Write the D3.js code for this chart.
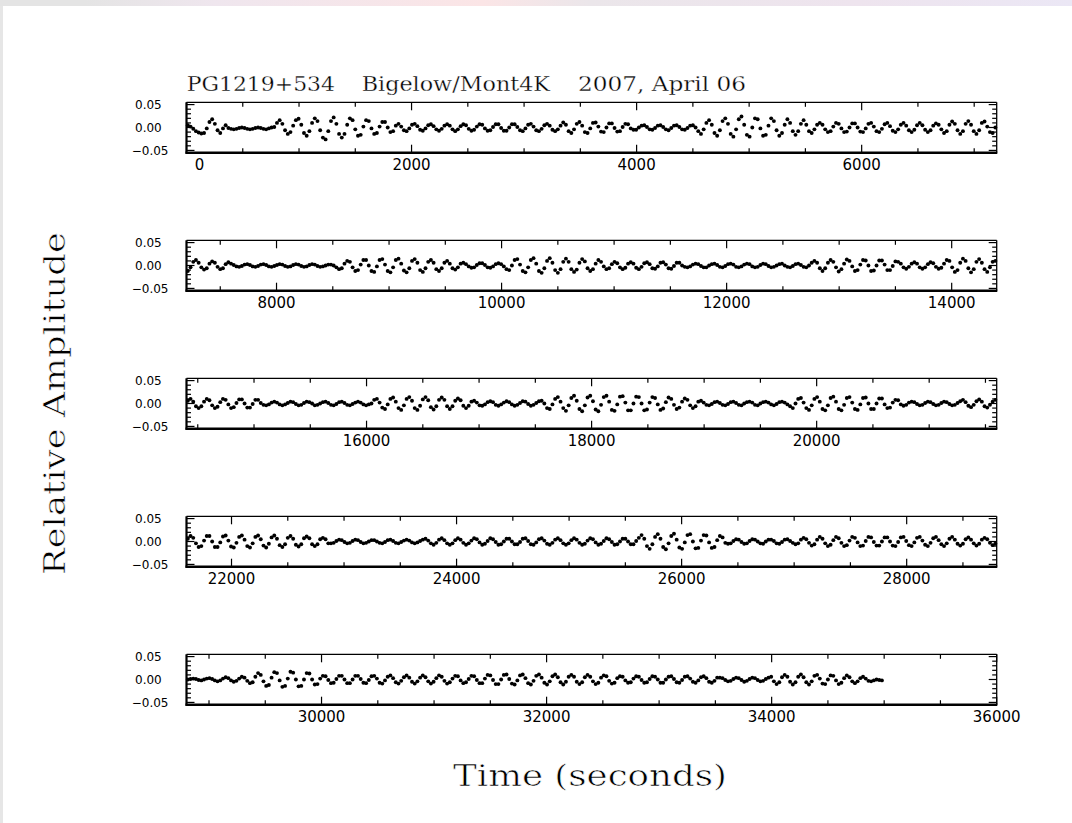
<!DOCTYPE html>
<html>
<head>
<meta charset="utf-8">
<script src="https://cdn.jsdelivr.net/npm/d3@7/dist/d3.min.js"></script>
<style>
  html, body { margin: 0; padding: 0; background: #e6e6e6; }
  svg { display: block; }
</style>
</head>
<body>
<script>
// Light curve of PG1219+534, Bigelow 61" / Mont4K, 2007 April 06.
// Relative amplitude in units of 0.001, one value per exposure (24 s cadence).
const cadence = 24;            // seconds between exposures
const panelSpan = 7200;        // seconds shown in each strip
const firstExposure = 12;      // mid-time of the first exposure in each strip (s)

const amp1 = [5,2,-3,-8,-11,-13,-12,-2,12,18,8,-6,-12,-2,5,
  -1,-3,-4,-3,-1,0,-1,-3,-4,-3,-1,0,-1,-3,-4,-2,0,1,
  10,16,8,-6,-14,-10, 4,16,19,6,-12,-18, -8,10,20,14,-6,-22, -26,-8,14,22,8,-14, -22,-14,6,20,16,-4, -18,-16,2,16,14,-2, -14,-12,2,12,12,0, -10,-8,4,
  8,2,-6,-8,-2,6, 8,3,-5,-7,-2,5, 7,3,-4,-7,-3,4, 7,4,-4,-8,-4,3, 7,5,-3,-7,-5,2, 7,6,-2,-7,-6,1, 7,7,-1,-7,-7,0, 7,7,1,-6,-8,-2, 6,8,2,-6,-8,-3, 5,8,4,-5,-8,-4,
  4,11,6,-8,-12,-4,8,12,4,-10,-12,-2,10,11,2,-9,-10,
  0,9,9,-1,-9,-8,1,8,7,-2,
  -5,-5,0,4,5,1,-4,-5,-1,4,5,1,-4,-6,-1,4,5,1,-4,-5,-1,4,5,0,
  -8,-14,-4,10,16,6, -12,-18,-6,14,20,8, -14,-20,-4,18,24,6, -16,-20,0,20,18,-2, -18,-16,4,20,14,-6, -18,-12,6,18,10,-8, -16,-8,8,16,6,
  -8,-12,-4,6,10,6, -4,-10,-8,2,10,8, -2,-10,-9,0,9,9, 0,-9,-10,-2,8,10, 2,-8,-10,-3,7,10, 3,-7,-10,-4,6,10, 4,-6,-10,-5,5,10, 5,-5,-10,-6,4,9,
  6,-4,-12,-8,6,13, 8,-6,-14,-8,8,14, 6,-8,-14,-6,10,13, 2,-10,-12,0];

const amp2 = [-12,-4,8,12,6,-4,-9,-6,4,9,6,-3,-8,-6,3,7,
  4,1,-2,-3,-1,2,3,1,-2,-3,-1,2,3,1,-2,-3,-1,1,3,2,-1,-3,-2,1,3,2,-1,-3,-2,1,3,2,-1,-3,-2,0,2,2,0,
  -4,-8,-6,4,10,8, -4,-12,-10,2,12,12, 0,-12,-14,-2,12,14, 2,-12,-15,-4,12,15, 4,-11,-15,-6,10,14, 6,-10,-14,-6,8,12, 6,-8,-12,-6,6,10, 4,-6,-9,-4,4,
  6,3,-2,-5,-4,1,5,5,1,-4,-5,-2,3,5,3,-2,
  -8,-10,0,12,14,2, -12,-15,-4,12,16,4, -12,-16,-6,10,16,6, -10,-16,-8,8,15,8, -8,-14,-9,6,14,9, -6,-12,-8,4,12,
  8,-2,-8,-6,3,8, 5,-4,-8,-5,4,7, 4,-5,-8,-3,5,7, 3,-6,-7,-2,6,7, 2,-6,-7,-1,6,6, 0,
  -3,-4,-2,2,4,3, -1,-4,-4,0,3,4, 1,-3,-4,-1,3,4, 2,-3,-4,-2,2,4, 3,-2,-4,-3,1,4, 3,-1,-4,-3,0,3, 4,0,-3,-4,-1,3, 4,1,-3,-4,
  0,6,10,6,-6,-12, -6,6,12,8,-4,-13, -8,4,13,10,-2,-12, -10,2,12,11,0,-12, -11,0,11,11,2,-10, -10,-1,9,
  8,4,-4,-7,-3,4,7,4,-4,-7,-4,3,7,5,-3,-7,-5,
  4,12,10,-4,-14,-10, 6,15,10,-6,-15,-8, 8,14,6,-8,-14,-4, 8,10];

const amp3 = [6,10,4,-6,-10,-6, 4,10,7,-4,-10,-7, 3,10,8,-2,-10,-8, 1,9,9,0,-9,-9, -1,8,8,
  1,-3,-4,-2,2,4, 2,-2,-4,-2,1,4, 3,-1,-4,-3,1,4, 3,0,-4,-3,0,3, 4,1,-3,-4,-1,3, 4,1,-3,-4,-1,2, 4,2,-2,-4,-2,
  0,8,10,2,-9,-12, -2,10,13,4,-10,-14, -4,10,14,6,-10,-14, -5,9,14,7,-8,-13, -6,8,13,8,-6,-12, -6,6,11,7,-5,-10, -5,
  4,6,2,-4,-5,-2, 3,5,3,-3,-5,-2, 2,5,3,-2,-5,-3, 1,5,4,-1,-5,-3, 1,5,
  6,0,-10,-12,-2,10, 14,4,-10,-16,-4,12, 17,6,-12,-17,-4,13, 17,5,-13,-17,-3,14, 17,4,-14,-16,-2,15, 16,2,-15,-15,0,15, 14,0,-15,-13,2,14, 12,-2,-14,-11,3,13, 10,-3,-12,-9,4,11, 8,-4,-10,-6,4,
  6,2,-3,-4,-1,3, 4,1,-3,-4,-1,3, 4,1,-3,-4,0,3, 4,2,-3,-4,0,3, 4,2,-2,-4,-1,3, 4,2,-2,
  -6,-10,0,10,12,2, -10,-14,-4,10,14,4, -12,-15,-4,12,15,4, -12,-15,-3,12,14,2, -12,-14,-2,12,13,0, -12,-12,0,11,11,-2, -10,-9,2,8,7,
  -2,-5,-3,2,4,3, -1,-4,-3,1,4,3, -1,-4,-3,1,4,3, -1,-4,-3,1,
  5,8,3,-5,-8,-3, 5,9,4,-6,-9,-3, 4,8];

const amp4 = [6,12,8,-4,-12,-10, 2,12,12,0,-12,-12, -2,11,13,2,-11,-13, -3,10,13,4,-10,-13, -4,10,13,5,-9,-13, -5,9,13,6,-8,-12, -6,8,12,6,-7,-11, -6,7,11,7,-6,-10, -6,5,8,5,-4,
  -4,-3,1,4,3,-1, -4,-3,1,4,3,-1, -4,-3,0,3,3,0, -3,-4,-1,3,4,1, -3,-4,-1,2,4,2, -2,-4,-2,1,
  4,6,2,-4,-7,-3, 4,7,3,-4,-7,-4, 3,7,4,-3,-7,-4, 2,7,5,-2,-7,-5, 1,7,5,-1,-7,-6, 0,6,6,0,-6,-6, -1,6,7,1,-6,-7, -2,5,7,2,-5,-7, -3,4,7,3,-4,-7, -4,3,7,4,-3,-7, -5,2,7,5,-2,-7, -5,1,7,5,-1,-7, -6,0,6,6,0,-6, -6,1,
  8,14,6,-10,-16,-6, 10,16,6,-12,-17,-4, 12,17,4,-13,-16,-2, 14,16,0,-15,-14,2, 14,13,-2,-14,-12,3, 12,9,-3,
  -5,-4,1,5,4,-1, -5,-4,1,5,4,0, -4,-5,0,4,4,1, -4,-5,-1,4,5,1, -3,
  -6,-4,4,8,5,-3, -9,-6,4,10,6,-4, -10,-7,3,10,7,-3, -10,-8,2,10,8,-2, -10,-9,1,10,9,-1, -9,-9,0,9,9,0, -9,-10,-1,9,10,1, -8,-10,-2,8,10,2, -7,-10,-3,7,10,3, -6,-10,-4,6,10,4, -5,-9,-5,5,9,4, -4,-9,-5,4,8,5, -3,-8,-5];

const amp5 = [0,1,2,1,-1,-2, 0,2,3,1,-2,-4, -2,2,5,3,-2,-5, -3,2,6,4,-3,
  -8,-6,6,14,10,-4, -14,-12,4,16,14,-2, -16,-14,2,17,15,0, -15,-14,0,14,13,0, -11,-10,
  2,8,7,-1,-8,-7, 1,8,8,0,-8,-8, 0,8,8,1,-7,-8, -1,7,8,2,-7,-9, -2,6,9,3,-6,-9, -3,5,9,4,-5,-9, -4,4,9,5,-4,-9, -5,3,9,6,-3,-9, -6,2,8,7,-2,-8, -6,1,8,7,-1,
  -8,-8,2,10,9,-1, -10,-10,0,10,11,1, -9,-11,-2,9,11,3, -8,-11,-3,8,11,4, -7,-11,-4,7,11,5, -6,-11,-5,6,10,6, -5,-10,-6,5,10,6, -4,-10,-7,4,9,7, -3,-9,-7,3,
  7,6,-2,-7,-6,2, 7,6,-1,-7,-6,1, 7,6,0,-7,-7,0, 6,7,1,-6,-7,-1, 6,7,2,-5,-7,-2, 5,7,3,-5,-7,-3, 4,
  4,3,-1,-4,-3,1, 4,3,-1,-5,-3,1, 4,3,-1,-4,-3,1, 4,
  6,-4,-10,-6,5,10, 6,-5,-11,-6,6,11, 5,-6,-11,-4,8,10, 2,-9,-10,0,9,8, -2,-10,-7,3,9,5, -4,-8,-4,3,6,2, -3,-4,-2,0,-1,-2];

const strips = [amp1, amp2, amp3, amp4, amp5];
const yTickValues = [0.05, 0, -0.05];
const yTickLabels = ["0.05", "0.00", "\u22120.05"];
const xMajorStep = 2000;
const xMinorStep = 500;
const yMinorStep = 0.01;
const titleParts = ["PG1219+534", "Bigelow/Mont4K", "2007, April 06"];
const yTitle = "Relative Amplitude";
const xTitle = "Time (seconds)";

const W = 1072, H = 823;
const svg = d3.select("body").append("svg").attr("width", W).attr("height", H);

// page frame
const grad = svg.append("defs").append("linearGradient").attr("id", "topband");
[["0%", "#e4e4e4"], ["8%", "#e4e4e4"], ["20%", "#efe6ee"], ["45%", "#fbe5e6"], ["55%", "#ebe6ea"], ["80%", "#eee4ee"], ["100%", "#ebe7f5"]]
  .forEach(([o, c]) => grad.append("stop").attr("offset", o).attr("stop-color", c));
svg.append("rect").attr("width", W).attr("height", H).attr("fill", "#e6e6e6");
svg.append("rect").attr("x", 0).attr("y", 0).attr("width", W).attr("height", 6).attr("fill", "url(#topband)");
svg.append("rect").attr("x", 3).attr("y", 6).attr("width", W - 3).attr("height", H - 6).attr("fill", "#fff");

const left = 186.5, right = 996.7;
const top0 = 102.3, stripH = 50.4, step = 138;

const sans = "'DejaVu Sans', sans-serif";
const serif = "'DejaVu Serif', serif";

strips.forEach((vals, i) => {
  const t0 = i * panelSpan, t1 = t0 + panelSpan;
  const top = top0 + i * step, bottom = top + stripH;
  const x = d3.scaleLinear().domain([t0, t1]).range([left, right]);
  const y = d3.scaleLinear().domain([-0.055, 0.055]).range([bottom, top]);
  const g = svg.append("g");

  // ticks: minor every 500 s / 0.01, major every 2000 s / 0.05
  const xMinor = d3.range(Math.ceil(t0 / xMinorStep) * xMinorStep, t1 + 1, xMinorStep);
  xMinor.forEach(v => {
    const major = v % xMajorStep === 0;
    const len = major ? 8 : 4.5;
    g.append("line").attr("x1", x(v)).attr("x2", x(v)).attr("y1", bottom).attr("y2", bottom - len)
      .attr("stroke", "#000").attr("stroke-width", 1.2);
    g.append("line").attr("x1", x(v)).attr("x2", x(v)).attr("y1", top).attr("y2", top + len)
      .attr("stroke", "#000").attr("stroke-width", 1.2);
  });
  const yMinor = d3.range(-5, 6).map(k => k * yMinorStep);
  yMinor.forEach(v => {
    const major = Math.abs(Math.round(v * 100)) % 5 === 0;
    const len = major ? 8 : 4.5;
    g.append("line").attr("x1", left).attr("x2", left + len).attr("y1", y(v)).attr("y2", y(v))
      .attr("stroke", "#000").attr("stroke-width", 1.2);
    g.append("line").attr("x1", right).attr("x2", right - len).attr("y1", y(v)).attr("y2", y(v))
      .attr("stroke", "#000").attr("stroke-width", 1.2);
  });

  // frame: heavier left and bottom edges
  g.append("line").attr("x1", left).attr("x2", right).attr("y1", top).attr("y2", top).attr("stroke", "#000").attr("stroke-width", 1.3);
  g.append("line").attr("x1", right).attr("x2", right).attr("y1", top).attr("y2", bottom).attr("stroke", "#000").attr("stroke-width", 1.3);
  g.append("line").attr("x1", left - 1).attr("x2", right + 0.6).attr("y1", bottom).attr("y2", bottom).attr("stroke", "#000").attr("stroke-width", 2.4);
  g.append("line").attr("x1", left).attr("x2", left).attr("y1", top).attr("y2", bottom + 1).attr("stroke", "#000").attr("stroke-width", 2.2);

  // y tick labels
  yTickValues.forEach((v, k) => {
    g.append("text").attr("x", k === 2 ? 131.7 : 135).attr("y", y(v) + 4.3)
      .attr("font-family", sans).attr("font-size", 12).text(yTickLabels[k]);
  });

  // x tick labels
  d3.range(Math.ceil(t0 / xMajorStep) * xMajorStep, t1 + 1, xMajorStep).forEach(v => {
    g.append("text").attr("x", x(v) + (v === 0 ? 13 : 0)).attr("y", bottom + 17.5)
      .attr("text-anchor", "middle").attr("font-family", sans).attr("font-size", 15).text(v);
  });

  // exposures
  g.selectAll("circle").data(vals).join("circle")
    .attr("cx", (d, k) => x(t0 + firstExposure + k * cadence))
    .attr("cy", d => y(d / 1000))
    .attr("r", 1.95).attr("fill", "#000");
});

// title (thin-stroked serif)
const titleX = [[186.7, 335], [361.7, 550], [578, 746]];
titleParts.forEach((s, k) => {
  svg.append("text").attr("x", titleX[k][0]).attr("y", 91)
    .attr("textLength", titleX[k][1] - titleX[k][0]).attr("lengthAdjust", "spacingAndGlyphs")
    .attr("font-family", serif).attr("font-size", 20)
    .attr("stroke", "#fff").attr("stroke-width", 0.3).text(s);
});

// axis titles
svg.append("text").attr("transform", "translate(65,575) rotate(-90)")
  .attr("textLength", 343).attr("lengthAdjust", "spacingAndGlyphs")
  .attr("font-family", serif).attr("font-size", 29)
  .attr("stroke", "#fff").attr("stroke-width", 0.6).text(yTitle);
svg.append("text").attr("x", 453).attr("y", 786)
  .attr("textLength", 274).attr("lengthAdjust", "spacingAndGlyphs")
  .attr("font-family", serif).attr("font-size", 29)
  .attr("stroke", "#fff").attr("stroke-width", 0.6).text(xTitle);
</script>
</body>
</html>
